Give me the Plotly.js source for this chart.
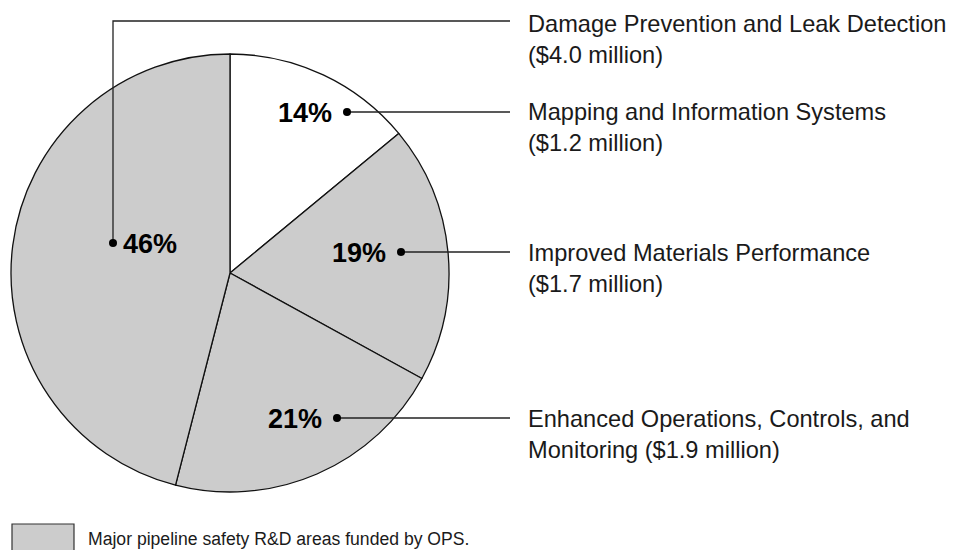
<!DOCTYPE html>
<html>
<head>
<meta charset="utf-8">
<script src="https://cdn.plot.ly/plotly-3.0.1.min.js"></script>
<style>
html,body{margin:0;padding:0;background:#fff;}
#chart{width:956px;height:550px;}
</style>
</head>
<body>
<div id="chart"></div>
<script>
// ---- data ----
const categories = ['Mapping and Information Systems', 'Improved Materials Performance', 'Enhanced Operations, Controls, and Monitoring', 'Damage Prevention and Leak Detection'];
const percents = [14, 19, 21, 46];
const millions = [1.2, 1.7, 1.9, 4.0];
const labelText = [
  'Mapping and Information Systems<br>($1.2 million)',
  'Improved Materials Performance<br>($1.7 million)',
  'Enhanced Operations, Controls, and<br>Monitoring ($1.9 million)',
  'Damage Prevention and Leak Detection<br>($4.0 million)'
];
const legendText = 'Major pipeline safety R&amp;D areas funded by OPS.';

// ---- styling / layout ----
const W = 956, H = 550;
const fills = ['#ffffff', '#cccccc', '#cccccc', '#cccccc'];
const cx = 230, cy = 273, R = 219;
// callout geometry (pixels): dot position, label row y, percent text side
const dots = [[347, 112], [401, 252], [337, 418], [113, 243]];
const rowY = [112, 252, 418, 21];
const textMidY = [127, 269, 434.5, 39];
const pctSide = ['left', 'left', 'left', 'right'];
const lineEndX = 510, labelX = 528;
const px = x => x / W;
const py = y => 1 - y / H;
const font = 'Liberation Sans, Arial, Helvetica, sans-serif';
const ink = '#1a1a1a';

const trace = {
  type: 'pie',
  values: percents,
  labels: categories,
  customdata: millions,
  sort: false,
  direction: 'clockwise',
  rotation: 0,
  textinfo: 'none',
  hoverinfo: 'skip',
  marker: {colors: fills, line: {color: '#111', width: 1.3}},
  domain: {x: [px(cx - R), px(cx + R)], y: [py(cy + R), py(cy - R)]},
  showlegend: false
};

const shapes = [];
const annotations = [];
for (let i = 0; i < categories.length; i++) {
  const [dx, dy] = dots[i];
  // leader line
  let path;
  if (dy === rowY[i]) {
    path = `M ${px(dx)} ${py(dy)} L ${px(lineEndX)} ${py(dy)}`;
  } else {
    path = `M ${px(dx)} ${py(dy)} L ${px(dx)} ${py(rowY[i])} L ${px(lineEndX)} ${py(rowY[i])}`;
  }
  shapes.push({type: 'path', xref: 'paper', yref: 'paper', path: path,
    line: {color: '#222', width: 1.3}});
  shapes.push({type: 'circle', xref: 'paper', yref: 'paper',
    x0: px(dx - 4), x1: px(dx + 4), y0: py(dy + 4), y1: py(dy - 4),
    fillcolor: '#000', line: {color: '#000', width: 0}});
  // percent text
  const left = pctSide[i] === 'left';
  annotations.push({xref: 'paper', yref: 'paper',
    x: px(left ? dx - 13 : dx + 8), y: py(dy + 1),
    xanchor: left ? 'right' : 'left', yanchor: 'middle', showarrow: false,
    text: '<b>' + percents[i] + '%</b>',
    font: {family: font, size: 27, color: '#000'}});
  // category label
  annotations.push({xref: 'paper', yref: 'paper',
    x: px(labelX - 2), y: py(textMidY[i]), xanchor: 'left', yanchor: 'middle',
    align: 'left', showarrow: false, text: labelText[i],
    font: {family: font, size: 23.6, color: ink}});
}
// legend swatch
shapes.push({type: 'rect', xref: 'paper', yref: 'paper',
  x0: px(12), x1: px(74), y0: py(560), y1: py(524),
  fillcolor: '#cccccc', line: {color: '#333', width: 1.2}});
annotations.push({xref: 'paper', yref: 'paper', x: px(86), y: py(539),
  xanchor: 'left', yanchor: 'middle', showarrow: false, text: legendText,
  font: {family: font, size: 17.6, color: ink}});

const layout = {
  width: W, height: H,
  margin: {l: 0, r: 0, t: 0, b: 0},
  paper_bgcolor: '#fff', plot_bgcolor: '#fff',
  showlegend: false,
  shapes: shapes,
  annotations: annotations
};
Plotly.newPlot('chart', [trace], layout, {staticPlot: true, displayModeBar: false});
</script>
</body>
</html>
